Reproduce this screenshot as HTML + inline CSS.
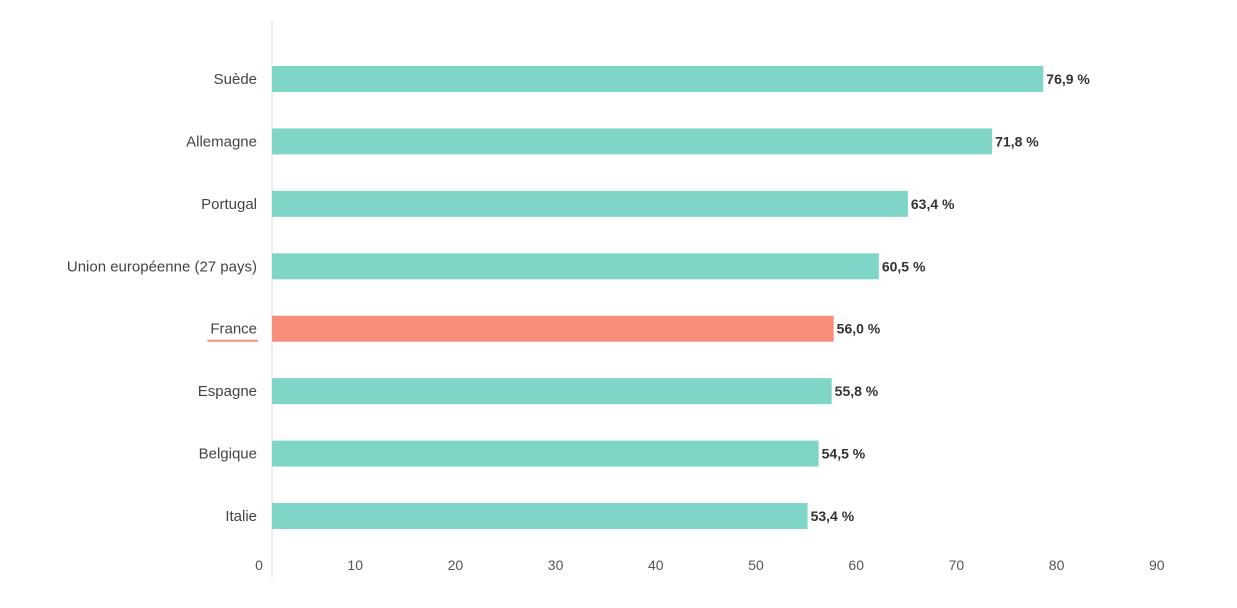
<!DOCTYPE html>
<html><head><meta charset="utf-8"><style>
body{margin:0;background:#fff;}
svg{display:block;font-family:"Liberation Sans",sans-serif;}
</style></head><body>
<svg id="c" width="1237" height="608">
<line x1="272" y1="20" x2="272" y2="578" stroke="#d8d8d8" stroke-width="1"/>
</svg>
<script>
const categories=["Suède","Allemagne","Portugal","Union européenne (27 pays)","France","Espagne","Belgique","Italie"];
const values=[76.9,71.8,63.4,60.5,56.0,55.8,54.5,53.4];
const valueLabels=["76,9 %","71,8 %","63,4 %","60,5 %","56,0 %","55,8 %","54,5 %","53,4 %"];
const ticks=[0,10,20,30,40,50,60,70,80,90];
const highlight="France";
const svg=document.getElementById('c');
const NS="http://www.w3.org/2000/svg";
const xBar=v=>272+10.03*v;
const xTick=v=>v===0?259:255+10.02*v;
const yRow=i=>79+62.43*i;
function mk(t,a){const e=document.createElementNS(NS,t);for(const k in a)e.setAttribute(k,a[k]);svg.appendChild(e);return e;}
categories.forEach((c,i)=>{
  const y=yRow(i);const hl=c===highlight;
  const r=mk('rect',{x:272,y:y-13,width:xBar(values[i])-272,height:26,fill:hl?'#f88d7b':'#80d6c6'});
  
  
  const l=mk('text',{x:257,y:y+5,'text-anchor':'end','font-size':15,fill:'#444'});
  l.textContent=c;
  
  
  if(hl){const w=l.getComputedTextLength();const u=mk('line',{x1:257-w-3,x2:258,y1:y+12,y2:y+12,stroke:'#f88d7b','stroke-width':2});
    
    }
  const v=mk('text',{x:xBar(values[i])+3,y:y+5,'font-size':14,'font-weight':'bold',fill:'#333'});
  v.textContent=valueLabels[i];
  
  
});
ticks.forEach(t=>{
  const e=mk('text',{x:xTick(t),y:570,'text-anchor':'middle','font-size':14,fill:'#555'});
  e.textContent=t;
  
  
});
</script>
</body></html>
